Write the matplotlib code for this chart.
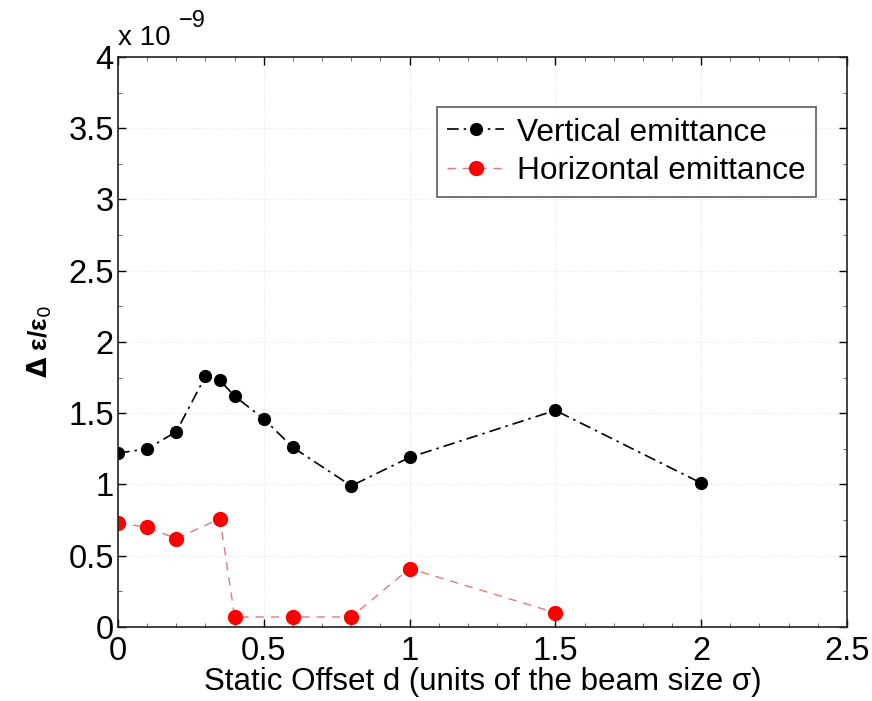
import matplotlib
matplotlib.use("Agg")
import matplotlib.pyplot as plt
from matplotlib.ticker import MultipleLocator

plt.rcParams['font.family'] = ['Liberation Sans', 'DejaVu Sans']

# Static offset (units of beam size sigma)
offset_v = [0.0, 0.1, 0.2, 0.3, 0.35, 0.4, 0.5, 0.6, 0.8, 1.0, 1.5, 2.0]
vertical = [1.22, 1.25, 1.37, 1.76, 1.73, 1.62, 1.46, 1.26, 0.99, 1.19, 1.52, 1.01]

offset_h = [0.0, 0.1, 0.2, 0.35, 0.4, 0.6, 0.8, 1.0, 1.5]
horizontal = [0.73, 0.70, 0.62, 0.76, 0.07, 0.07, 0.07, 0.41, 0.10]

x_ticks = [0, 0.5, 1, 1.5, 2, 2.5]
x_tick_labels = ['0', '0.5', '1', '1.5', '2', '2.5']
y_ticks = [0, 0.5, 1, 1.5, 2, 2.5, 3, 3.5, 4]
y_tick_labels = ['0', '0.5', '1', '1.5', '2', '2.5', '3', '3.5', '4']

fig = plt.figure(figsize=(8.72, 7.01), dpi=100)
ax = fig.add_axes([0.1353, 0.1056, 0.8360, 0.8131])

ax.plot(offset_v, vertical, color='black', linestyle='-.',
        linewidth=1.2, dashes=(7, 3, 1.5, 3), marker='o', markersize=8.5,
        markerfacecolor='black', markeredgecolor='black',
        label='Vertical emittance')
ax.plot(offset_h, horizontal, color='#e07a7a', linestyle='--',
        linewidth=1.0, dashes=(6, 5), marker='o', markersize=10,
        markerfacecolor='#ff0000', markeredgecolor='#ff0000',
        label='Horizontal emittance')

ax.set_xlim(0, 2.5)
ax.set_ylim(0, 4)
ax.set_xticks(x_ticks)
ax.set_xticklabels(x_tick_labels)
ax.set_yticks(y_ticks)
ax.set_yticklabels(y_tick_labels)
ax.xaxis.set_minor_locator(MultipleLocator(0.1))
ax.yaxis.set_minor_locator(MultipleLocator(0.25))
ax.tick_params(which='both', direction='in', top=True, right=True,
               labelsize=23.5)
ax.tick_params(axis='y', pad=3)
ax.tick_params(axis='x', pad=6.5)
ax.tick_params(which='major', length=6, width=1)
ax.tick_params(which='minor', length=3, width=0.6, color='#555555')
for s in ax.spines.values():
    s.set_linewidth(1.2)
    s.set_color('#222222')

ax.grid(True, which='major', linestyle=':', linewidth=0.8, color='#e4e4e4')

# axis multiplier, MATLAB style
fig.text(0.1353, 0.9358, 'x 10', fontsize=20, ha='left', va='baseline')
fig.text(0.2050, 0.9615, '\u22129', fontsize=17, ha='left', va='baseline')

ax.set_xlabel('Static Offset d (units of the beam size σ)', fontsize=22.5,
              labelpad=0)
ax.set_ylabel(r'$\mathbf{\Delta}$ ε/ε$_0$', fontsize=19, fontweight='bold',
              labelpad=10)

leg = ax.legend(loc='upper left', bbox_to_anchor=(0.4376, 0.9116),
                fontsize=22.8, frameon=True, fancybox=False,
                borderpad=0.32, handlelength=1.8, handletextpad=0.4,
                labelspacing=0.28, borderaxespad=0.0)
leg.get_frame().set_edgecolor('#333333')
leg.get_frame().set_linewidth(1.2)

fig.savefig('out.png', dpi=100)
